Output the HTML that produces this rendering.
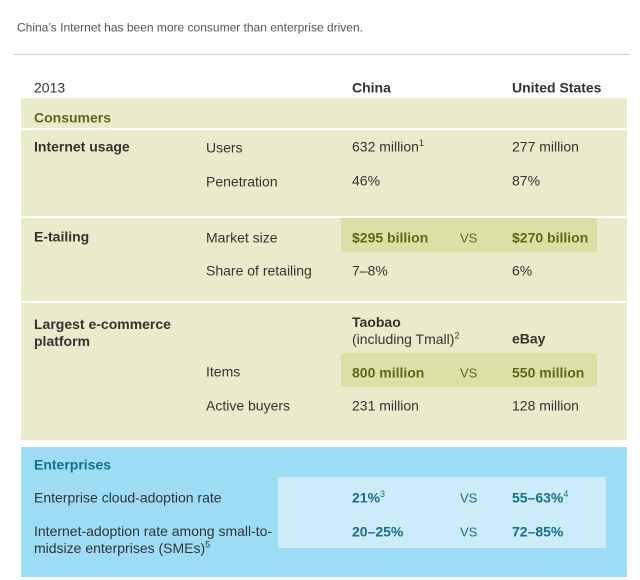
<!DOCTYPE html>
<html><head><meta charset="utf-8"><style>
body{margin:0;width:640px;height:580px;background:#fff;font-family:"Liberation Sans",sans-serif;position:relative;overflow:hidden}
.a{position:absolute;white-space:nowrap;line-height:17px;transform:translateY(calc(-50% + 2px))}
.t{font-size:14px;color:#333}
.b{font-weight:bold}
.g{color:#5b6a12}
.u{color:#136f8f}
.box{position:absolute}
sup{font-size:9px;line-height:0}
</style></head><body>
<div class="a" style="left:17px;top:26px;font-size:12px;color:#555">China’s Internet has been more consumer than enterprise driven.</div>
<div class="box" style="left:14px;top:54px;width:616px;height:1px;background:#ccc"></div>

<div class="box" style="left:21px;top:98px;width:606px;height:342px;background:#eaebcb"></div>
<div class="box" style="left:21px;top:128px;width:606px;height:2px;background:#fff"></div>
<div class="box" style="left:21px;top:216px;width:606px;height:2px;background:#fff"></div>
<div class="box" style="left:21px;top:301px;width:606px;height:2px;background:#fff"></div>
<div class="box" style="left:341px;top:218px;width:256px;height:34px;background:#dde0a6"></div>
<div class="box" style="left:341px;top:353px;width:256px;height:34px;background:#dde0a6"></div>

<div class="box" style="left:21px;top:447px;width:606px;height:130px;background:#9ddcf5"></div>
<div class="box" style="left:278px;top:477px;width:328px;height:71px;background:#cdebf8"></div>

<div class="a t" style="left:34px;top:86px">2013</div>
<div class="a t b" style="left:352px;top:86px">China</div>
<div class="a t b" style="left:512px;top:86px">United States</div>

<div class="a t b g" style="left:34px;top:116px">Consumers</div>
<div class="a t b" style="left:34px;top:145px">Internet usage</div>
<div class="a t" style="left:206px;top:146px">Users</div>
<div class="a t" style="left:352px;top:145px">632 million<sup>1</sup></div>
<div class="a t" style="left:512px;top:145px">277 million</div>
<div class="a t" style="left:206px;top:180px">Penetration</div>
<div class="a t" style="left:352px;top:179px">46%</div>
<div class="a t" style="left:512px;top:179px">87%</div>

<div class="a t b" style="left:34px;top:235px">E-tailing</div>
<div class="a t" style="left:206px;top:236px">Market size</div>
<div class="a t b g" style="left:352px;top:236px">$295 billion</div>
<div class="a g" style="left:460px;top:236px;font-size:13px">VS</div>
<div class="a t b g" style="left:512px;top:236px">$270 billion</div>
<div class="a t" style="left:206px;top:269px">Share of retailing</div>
<div class="a t" style="left:352px;top:269px">7–8%</div>
<div class="a t" style="left:512px;top:269px">6%</div>

<div class="a t b" style="left:34px;top:331px;white-space:normal;line-height:17px">Largest e-commerce<br>platform</div>
<div class="a t" style="left:352px;top:329px"><b>Taobao</b><br>(including Tmall)<sup>2</sup></div>
<div class="a t b" style="left:512px;top:337px">eBay</div>
<div class="a t" style="left:206px;top:370px">Items</div>
<div class="a t b g" style="left:352px;top:371px">800 million</div>
<div class="a g" style="left:460px;top:371px;font-size:13px">VS</div>
<div class="a t b g" style="left:512px;top:371px">550 million</div>
<div class="a t" style="left:206px;top:404px">Active buyers</div>
<div class="a t" style="left:352px;top:404px">231 million</div>
<div class="a t" style="left:512px;top:404px">128 million</div>

<div class="a t b u" style="left:34px;top:463px">Enterprises</div>
<div class="a t" style="left:34px;top:496px">Enterprise cloud-adoption rate</div>
<div class="a t b u" style="left:352px;top:496px">21%<sup style="font-weight:normal">3</sup></div>
<div class="a u" style="left:460px;top:496px;font-size:13px">VS</div>
<div class="a t b u" style="left:512px;top:496px">55–63%<sup style="font-weight:normal">4</sup></div>
<div class="a t" style="left:34px;top:538px;line-height:17px">Internet-adoption rate among small-to-<br>midsize enterprises (SMEs)<sup>5</sup></div>
<div class="a t b u" style="left:352px;top:530px">20–25%</div>
<div class="a u" style="left:460px;top:530px;font-size:13px">VS</div>
<div class="a t b u" style="left:512px;top:530px">72–85%</div>
</body></html>
